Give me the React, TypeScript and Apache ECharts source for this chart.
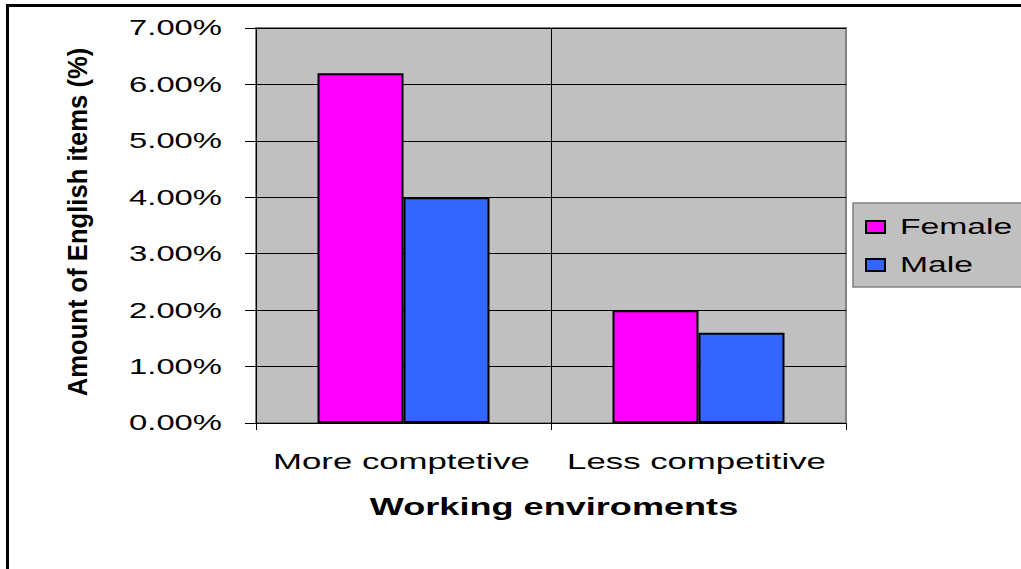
import React, { useEffect, useRef } from "react";
import * as echarts from "echarts";

const categories = ["More comptetive", "Less competitive"];
const seriesNames = ["Female", "Male"];
const femaleValues = [6.2, 2.0];
const maleValues = [4.0, 1.6];
const yTickValues = [0, 1, 2, 3, 4, 5, 6, 7];
const yTickLabels = ["0.00%", "1.00%", "2.00%", "3.00%", "4.00%", "5.00%", "6.00%", "7.00%"];
const xAxisTitle = "Working enviroments";
const yAxisTitle = "Amount of English items (%)";

const FONT = "'Liberation Sans', Arial, Helvetica, sans-serif";
const COLORS = ["#FF00FF", "#3366FF"];
const GRID = { left: 256, top: 28, right: 175, bottom: 146 };

export default function App() {
  const ref = useRef<HTMLDivElement>(null);

  useEffect(() => {
    if (!ref.current) return;
    const chart = echarts.init(ref.current, null, { renderer: "svg" });
    chart.setOption({
      animation: false,
      backgroundColor: "#ffffff",
      grid: {
        left: GRID.left,
        top: GRID.top,
        right: GRID.right,
        bottom: GRID.bottom,
        show: true,
        backgroundColor: "#C0C0C0",
        borderColor: "#808080",
        borderWidth: 2,
      },
      xAxis: {
        type: "category",
        data: categories,
        boundaryGap: true,
        axisLine: { show: true, lineStyle: { color: "#000", width: 1 } },
        axisTick: { show: true, alignWithLabel: false, length: 7, lineStyle: { color: "#000" } },
        axisLabel: { show: false },
        splitLine: { show: true, showMinLine: false, showMaxLine: false, lineStyle: { color: "#000", width: 1 } },
      },
      yAxis: {
        type: "value",
        min: 0,
        max: 7,
        interval: 1,
        axisLine: { show: true, lineStyle: { color: "#000", width: 1 } },
        axisTick: { show: true, length: 11, lineStyle: { color: "#000" } },
        axisLabel: { show: false },
        splitLine: { show: true, lineStyle: { color: "#000", width: 1 } },
      },
      series: [
        {
          name: seriesNames[0],
          type: "bar",
          data: femaleValues,
          barWidth: 86,
          barGap: "0%",
          itemStyle: { color: COLORS[0], borderColor: "#000", borderWidth: 2 },
        },
        {
          name: seriesNames[1],
          type: "bar",
          data: maleValues,
          barWidth: 86,
          barGap: "0%",
          itemStyle: { color: COLORS[1], borderColor: "#000", borderWidth: 2 },
        },
      ],
    });

    const graphics: any[] = [];
    // outer frame
    graphics.push({
      type: "polyline",
      silent: true,
      shape: { points: [[7.5, 569], [7.5, 5.5], [1021, 5.5]] },
      style: { stroke: "#000", lineWidth: 3, fill: null },
    });

    // y tick labels
    yTickValues.forEach((v, i) => {
      const py = chart.convertToPixel({ yAxisIndex: 0 }, v) as number;
      graphics.push({
        type: "text",
        silent: true,
        x: GRID.left - 34,
        y: py,
        scaleX: 1.49,
        style: {
          text: yTickLabels[i],
          fontFamily: FONT,
          fontSize: 22,
          fill: "#000",
          align: "right",
          verticalAlign: "middle",
        },
      });
    });

    // category labels
    categories.forEach((c) => {
      const px = chart.convertToPixel({ xAxisIndex: 0 }, c) as number;
      graphics.push({
        type: "text",
        silent: true,
        x: px - 2,
        y: 461,
        scaleX: 1.58,
        style: {
          text: c,
          fontFamily: FONT,
          fontSize: 22,
          fill: "#000",
          align: "center",
          verticalAlign: "middle",
        },
      });
    });

    // x axis title
    graphics.push({
      type: "text",
      silent: true,
      x: 554,
      y: 507,
      scaleX: 1.57,
      style: {
        text: xAxisTitle,
        fontFamily: FONT,
        fontSize: 23,
        fontWeight: "bold",
        fill: "#000",
        align: "center",
        verticalAlign: "middle",
      },
    });

    // y axis title
    graphics.push({
      type: "text",
      silent: true,
      x: 78,
      y: 222,
      rotation: Math.PI / 2,
      scaleY: 1.1,
      style: {
        text: yAxisTitle,
        fontFamily: FONT,
        fontSize: 25.6,
        fontWeight: "bold",
        fill: "#000",
        align: "center",
        verticalAlign: "middle",
      },
    });

    // legend
    graphics.push({
      type: "rect",
      silent: true,
      shape: { x: 853, y: 203, width: 175, height: 84 },
      style: { fill: "#C0C0C0", stroke: "#808080", lineWidth: 1.5 },
    });
    const legendY = [227, 265];
    seriesNames.forEach((name, i) => {
      graphics.push({
        type: "rect",
        silent: true,
        shape: { x: 866, y: legendY[i] - 6, width: 19, height: 12 },
        style: { fill: COLORS[i], stroke: "#000", lineWidth: 2 },
      });
      graphics.push({
        type: "text",
        silent: true,
        x: 900,
        y: legendY[i] - 1,
        scaleX: 1.53,
        style: {
          text: name,
          fontFamily: FONT,
          fontSize: 22,
          fill: "#000",
          align: "left",
          verticalAlign: "middle",
        },
      });
    });

    chart.setOption({ graphic: graphics });

    return () => {
      chart.dispose();
    };
  }, []);

  return (
    <div
      ref={ref}
      style={{ position: "absolute", left: 0, top: 0, width: 1021, height: 569 }}
    />
  );
}
